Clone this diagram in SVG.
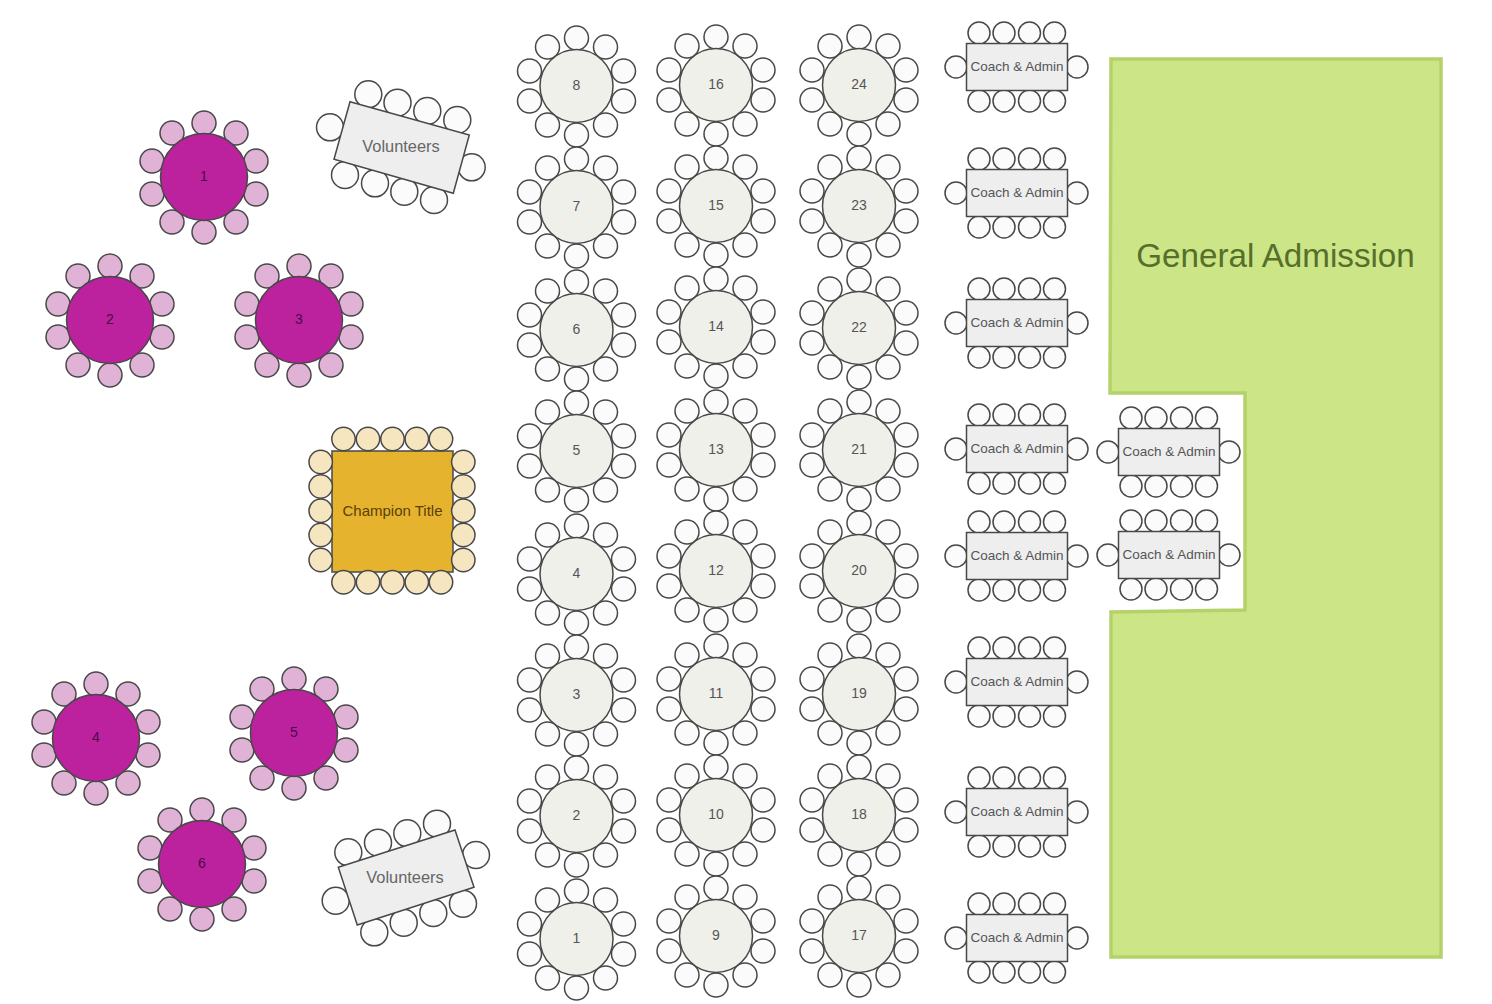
<svg xmlns="http://www.w3.org/2000/svg" width="1492" height="1004" viewBox="0 0 1492 1004">
<style>
text{font-family:"Liberation Sans",Arial,sans-serif;text-anchor:middle;dominant-baseline:central}
.s{stroke:#484848;stroke-width:1.5}
.n{font-size:14px;fill:#555}
.p{font-size:14px;fill:#4a0a4a}
.c{font-size:13.5px;fill:#555}
.v{font-size:16.4px;fill:#666}
</style>
<defs>
<g id="round" class="s">
<g fill="#fbfbfb">
<circle cx="0" cy="-48" r="12"/><circle cx="0" cy="49" r="12"/>
<circle cx="-29" cy="-39" r="12"/><circle cx="29" cy="-39" r="12"/>
<circle cx="-47" cy="-15" r="12"/><circle cx="47" cy="-15" r="12"/>
<circle cx="-47" cy="15" r="12"/><circle cx="47" cy="15" r="12"/>
<circle cx="-29" cy="39" r="12"/><circle cx="29" cy="39" r="12"/>
</g>
<circle r="36.5" fill="#f0f0ea"/>
</g>
<g id="purple" class="s">
<g fill="#e0b2d6">
<circle cx="0" cy="-54" r="12"/><circle cx="0" cy="55" r="12"/>
<circle cx="-32" cy="-44" r="12"/><circle cx="32" cy="-44" r="12"/>
<circle cx="-52" cy="-16" r="12"/><circle cx="52" cy="-16" r="12"/>
<circle cx="-52" cy="17" r="12"/><circle cx="52" cy="17" r="12"/>
<circle cx="-32" cy="45" r="12"/><circle cx="32" cy="45" r="12"/>
</g>
<circle r="43.5" fill="#bc219e"/>
</g>
<g id="coach" class="s">
<g fill="#fbfbfb">
<circle cx="12.5" cy="-34" r="11"/><circle cx="37.5" cy="-34" r="11"/><circle cx="63" cy="-34" r="11"/><circle cx="88" cy="-34" r="11"/>
<circle cx="12.5" cy="34" r="11"/><circle cx="37.5" cy="34" r="11"/><circle cx="63" cy="34" r="11"/><circle cx="88" cy="34" r="11"/>
<circle cx="-10.5" cy="0" r="11"/><circle cx="110.5" cy="0" r="11"/>
</g>
<rect x="0" y="-23.5" width="101" height="47" fill="#eeeeee"/>
</g>
</defs>
<g id="connectors"/>
<g id="general-admission">
<polygon points="1111,59 1441,59 1441,957 1111,957 1111,612 1245,610 1245,393 1110,393" fill="#cbe587" stroke="#b5d26a" stroke-width="3.5"/>
<text x="1275.5" y="255" style="font-size:33.2px;fill:#566f2a">General Admission</text>
</g>
<g id="volunteers-1" class="s">
<g fill="#fbfbfb">
<circle cx="368.3" cy="94.3" r="13.5"/><circle cx="397.5" cy="102.7" r="13.5"/><circle cx="427.3" cy="111" r="13.5"/><circle cx="457.3" cy="120" r="13.5"/>
<circle cx="471.7" cy="167.3" r="13.5"/><circle cx="330" cy="127.3" r="13.5"/>
<circle cx="345" cy="175" r="13.5"/><circle cx="375" cy="183.3" r="13.5"/><circle cx="404.3" cy="191.7" r="13.5"/><circle cx="434" cy="200" r="13.5"/>
</g>
<polygon points="350,101.7 469.3,135 453.3,193.3 334,159.3" fill="#eeeeee"/>
<text x="401" y="146" class="v" stroke="none">Volunteers</text>
</g>
<g id="volunteers-2" class="s">
<g fill="#fbfbfb">
<circle cx="348.3" cy="852.3" r="13.5"/><circle cx="378" cy="842.7" r="13.5"/><circle cx="407.3" cy="833.3" r="13.5"/><circle cx="437" cy="823.7" r="13.5"/>
<circle cx="476" cy="855" r="13.5"/><circle cx="335.7" cy="900.7" r="13.5"/>
<circle cx="374.3" cy="932.3" r="13.5"/><circle cx="403.7" cy="922.7" r="13.5"/><circle cx="433.3" cy="913" r="13.5"/><circle cx="463" cy="903.7" r="13.5"/>
</g>
<polygon points="338.3,867.3 455,830 474,887.3 357.3,925" fill="#eeeeee"/>
<text x="405" y="877" class="v" stroke="none">Volunteers</text>
</g>
<g id="champion" class="s">
<rect x="332" y="451" width="121" height="121" fill="#e6b32e"/>
<g fill="#f5e6c0">
<circle cx="343.5" cy="439" r="11.7"/><circle cx="368" cy="439" r="11.7"/><circle cx="392.5" cy="439" r="11.7"/><circle cx="416.8" cy="439" r="11.7"/><circle cx="441" cy="439" r="11.7"/>
<circle cx="343.5" cy="582.3" r="11.7"/><circle cx="368" cy="582.3" r="11.7"/><circle cx="392.5" cy="582.3" r="11.7"/><circle cx="416.8" cy="582.3" r="11.7"/><circle cx="441" cy="582.3" r="11.7"/>
<circle cx="320.7" cy="462" r="11.7"/><circle cx="320.7" cy="486.5" r="11.7"/><circle cx="320.7" cy="510.7" r="11.7"/><circle cx="320.7" cy="535" r="11.7"/><circle cx="320.7" cy="560" r="11.7"/>
<circle cx="463.3" cy="462" r="11.7"/><circle cx="463.3" cy="486.5" r="11.7"/><circle cx="463.3" cy="510.7" r="11.7"/><circle cx="463.3" cy="535" r="11.7"/><circle cx="463.3" cy="560" r="11.7"/>
</g>
<text x="392.5" y="510" stroke="none" style="font-size:15px;fill:#5a4008">Champion Title</text>
</g>
<g id="vip-1"><use href="#purple" x="204" y="177"/><text x="204" y="176" class="p">1</text></g>
<g id="vip-2"><use href="#purple" x="110" y="320"/><text x="110" y="319" class="p">2</text></g>
<g id="vip-3"><use href="#purple" x="299" y="320"/><text x="299" y="319" class="p">3</text></g>
<g id="vip-4"><use href="#purple" x="96" y="738"/><text x="96" y="737" class="p">4</text></g>
<g id="vip-5"><use href="#purple" x="294" y="733"/><text x="294" y="732" class="p">5</text></g>
<g id="vip-6"><use href="#purple" x="202" y="864"/><text x="202" y="863" class="p">6</text></g>
<g id="t8"><use href="#round" x="576.5" y="86"/><text x="576.5" y="85" class="n">8</text></g>
<g id="t7"><use href="#round" x="576.5" y="207"/><text x="576.5" y="206" class="n">7</text></g>
<g id="t6"><use href="#round" x="576.5" y="330"/><text x="576.5" y="329" class="n">6</text></g>
<g id="t5"><use href="#round" x="576.5" y="451"/><text x="576.5" y="450" class="n">5</text></g>
<g id="t4"><use href="#round" x="576.5" y="574"/><text x="576.5" y="573" class="n">4</text></g>
<g id="t3"><use href="#round" x="576.5" y="695"/><text x="576.5" y="694" class="n">3</text></g>
<g id="t2"><use href="#round" x="576.5" y="816"/><text x="576.5" y="815" class="n">2</text></g>
<g id="t1"><use href="#round" x="576.5" y="939"/><text x="576.5" y="938" class="n">1</text></g>
<g id="t16"><use href="#round" x="716" y="85"/><text x="716" y="84" class="n">16</text></g>
<g id="t15"><use href="#round" x="716" y="206"/><text x="716" y="205" class="n">15</text></g>
<g id="t14"><use href="#round" x="716" y="327"/><text x="716" y="326" class="n">14</text></g>
<g id="t13"><use href="#round" x="716" y="450"/><text x="716" y="449" class="n">13</text></g>
<g id="t12"><use href="#round" x="716" y="571"/><text x="716" y="570" class="n">12</text></g>
<g id="t11"><use href="#round" x="716" y="694"/><text x="716" y="693" class="n">11</text></g>
<g id="t10"><use href="#round" x="716" y="815"/><text x="716" y="814" class="n">10</text></g>
<g id="t9"><use href="#round" x="716" y="936"/><text x="716" y="935" class="n">9</text></g>
<g id="t24"><use href="#round" x="859" y="85"/><text x="859" y="84" class="n">24</text></g>
<g id="t23"><use href="#round" x="859" y="206"/><text x="859" y="205" class="n">23</text></g>
<g id="t22"><use href="#round" x="859" y="328"/><text x="859" y="327" class="n">22</text></g>
<g id="t21"><use href="#round" x="859" y="450"/><text x="859" y="449" class="n">21</text></g>
<g id="t20"><use href="#round" x="859" y="571"/><text x="859" y="570" class="n">20</text></g>
<g id="t19"><use href="#round" x="859" y="694"/><text x="859" y="693" class="n">19</text></g>
<g id="t18"><use href="#round" x="859" y="815"/><text x="859" y="814" class="n">18</text></g>
<g id="t17"><use href="#round" x="859" y="936"/><text x="859" y="935" class="n">17</text></g>
<g id="coach-1"><use href="#coach" x="966.5" y="67"/><text x="1017" y="66" class="c">Coach &amp; Admin</text></g>
<g id="coach-2"><use href="#coach" x="966.5" y="193"/><text x="1017" y="192" class="c">Coach &amp; Admin</text></g>
<g id="coach-3"><use href="#coach" x="966.5" y="323"/><text x="1017" y="322" class="c">Coach &amp; Admin</text></g>
<g id="coach-4"><use href="#coach" x="966.5" y="449"/><text x="1017" y="448" class="c">Coach &amp; Admin</text></g>
<g id="coach-5"><use href="#coach" x="966.5" y="556"/><text x="1017" y="555" class="c">Coach &amp; Admin</text></g>
<g id="coach-6"><use href="#coach" x="966.5" y="682"/><text x="1017" y="681" class="c">Coach &amp; Admin</text></g>
<g id="coach-7"><use href="#coach" x="966.5" y="812"/><text x="1017" y="811" class="c">Coach &amp; Admin</text></g>
<g id="coach-8"><use href="#coach" x="966.5" y="938"/><text x="1017" y="937" class="c">Coach &amp; Admin</text></g>
<g id="coach-9"><use href="#coach" x="1118.5" y="452"/><text x="1169" y="451.5" class="c">Coach &amp; Admin</text></g>
<g id="coach-10"><use href="#coach" x="1118.5" y="555"/><text x="1169" y="554.5" class="c">Coach &amp; Admin</text></g>
</svg>
